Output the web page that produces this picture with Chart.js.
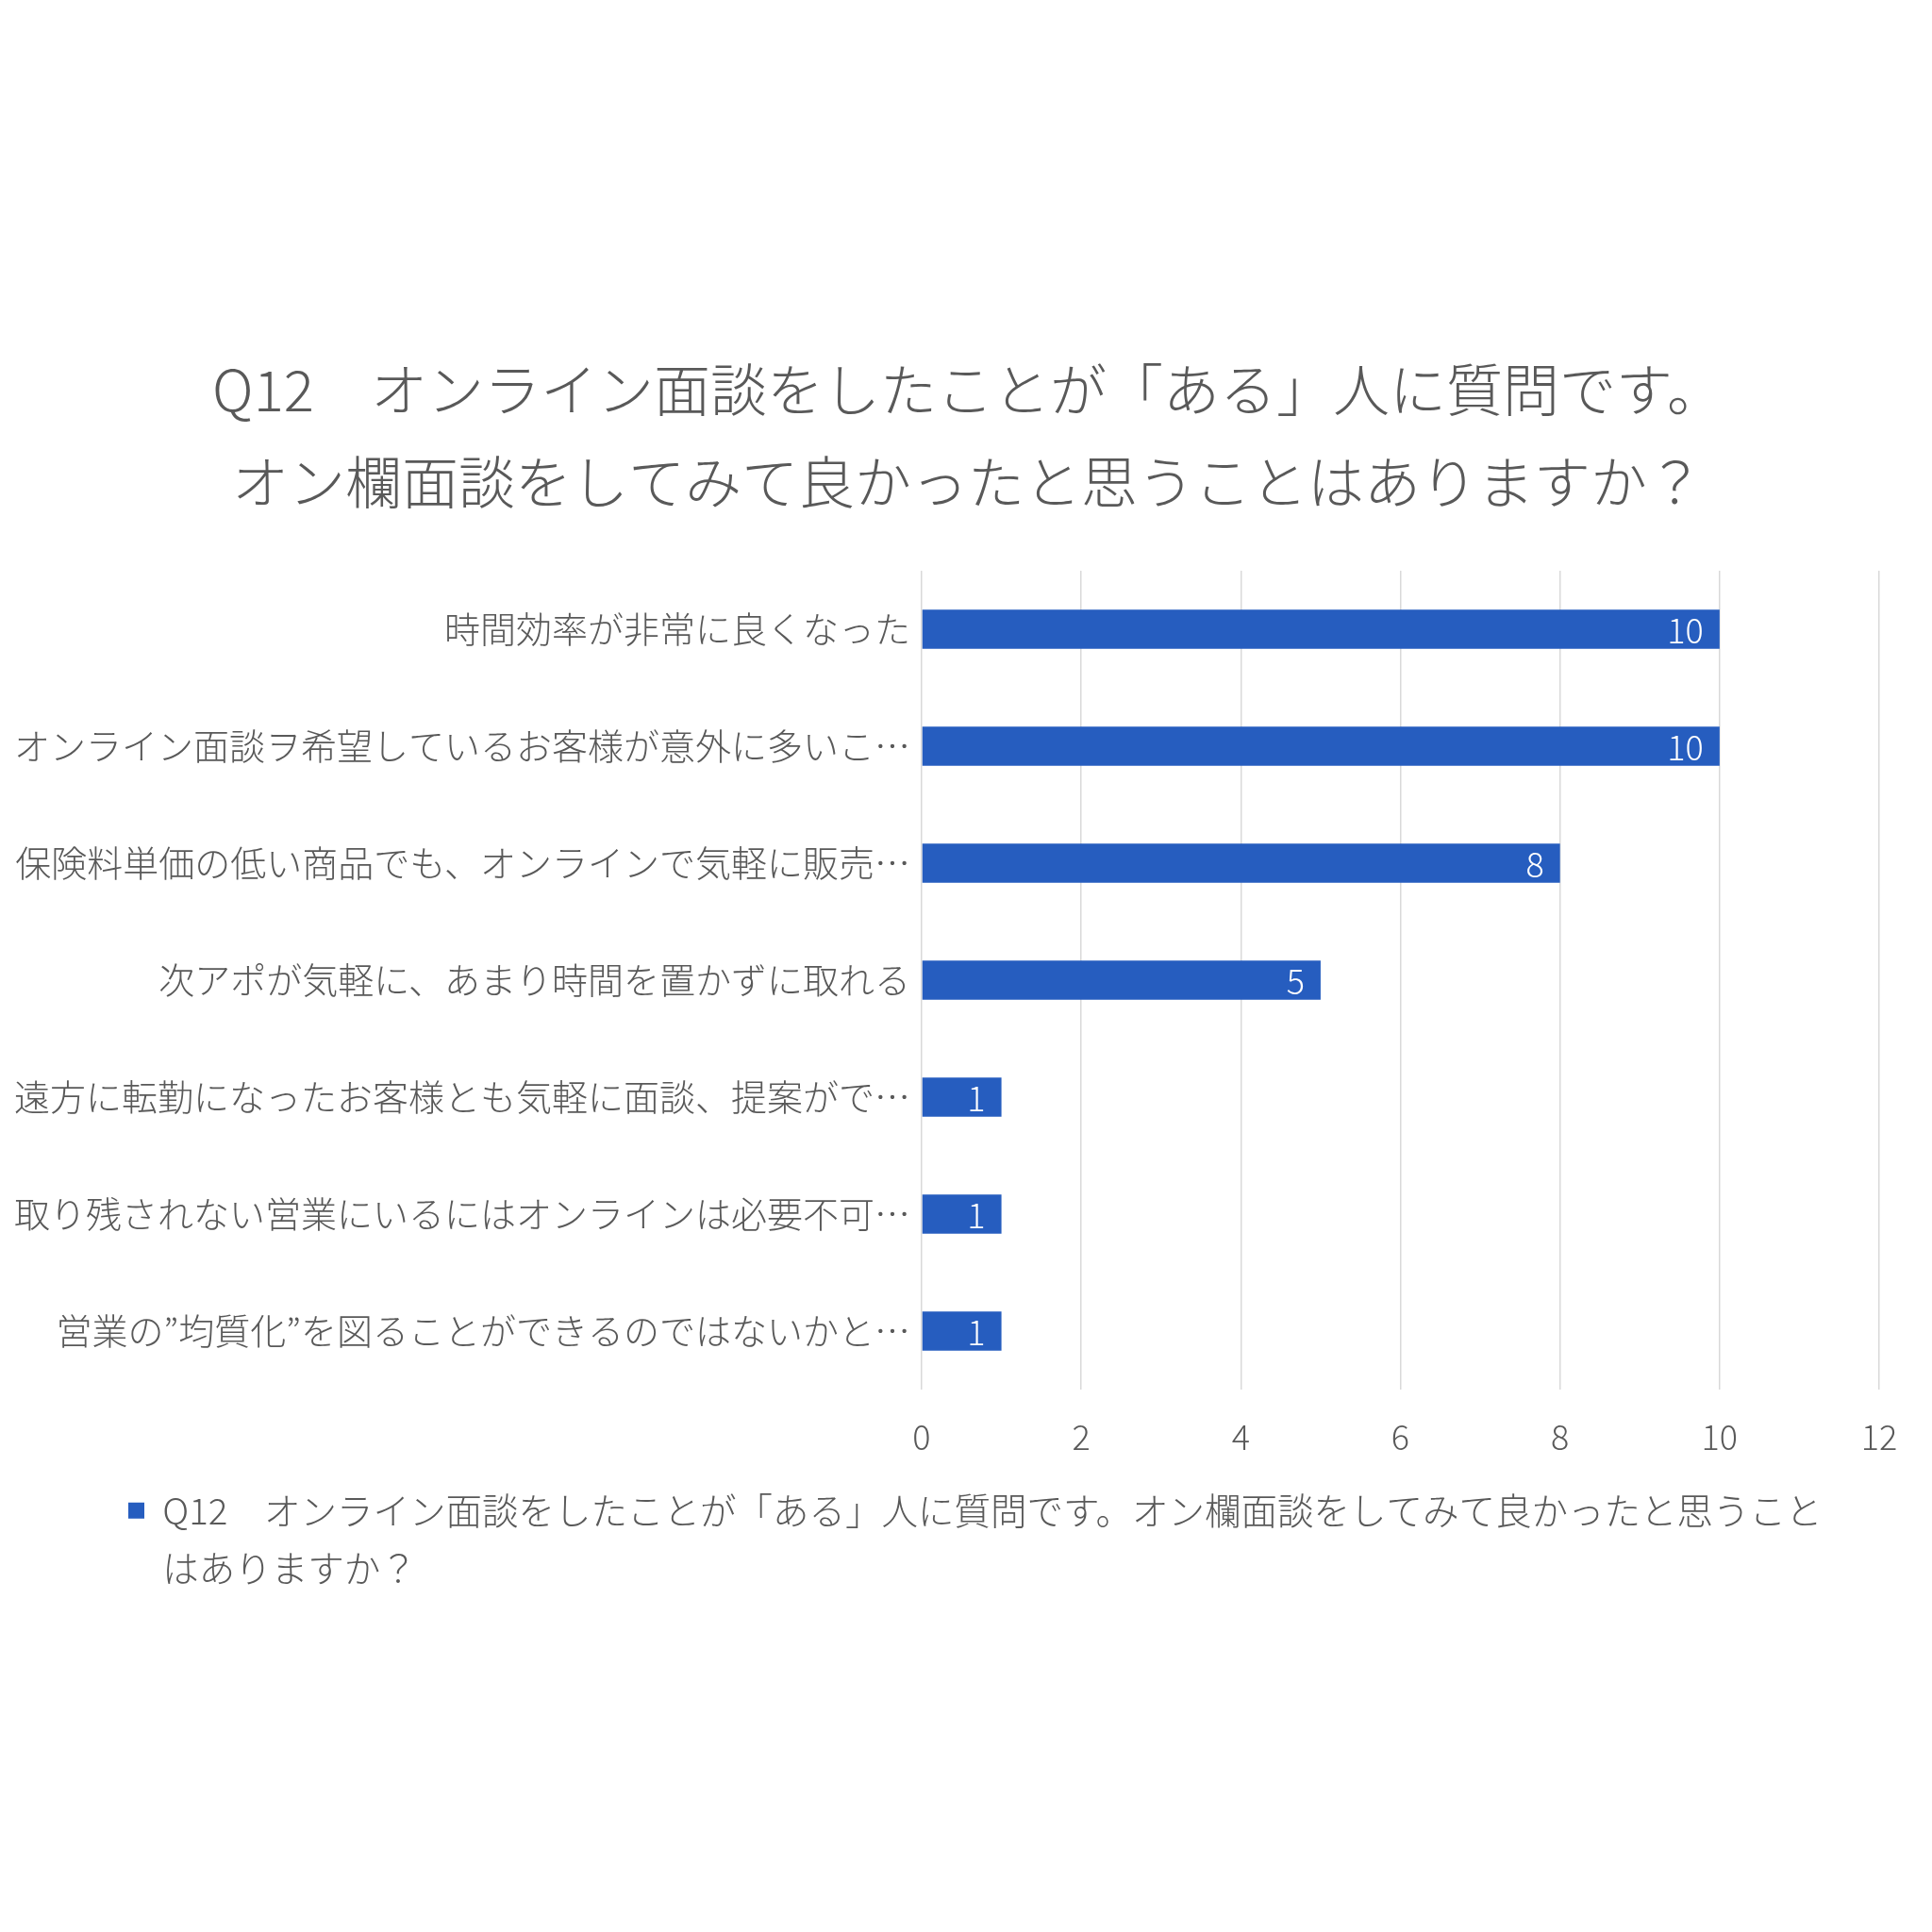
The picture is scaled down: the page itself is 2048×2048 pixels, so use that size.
<!DOCTYPE html>
<html>
<head>
<meta charset="utf-8">
<script src="https://cdn.jsdelivr.net/npm/chart.js@4"></script>
<style>
  html, body { margin: 0; padding: 0; background: #ffffff; }
  #wrap { width: 2048px; height: 2048px; }
</style>
</head>
<body>
<div id="wrap"><canvas id="c" width="2048" height="2048"></canvas></div>
<script>
const titleLines = [
  'Q12\u3000オンライン面談をしたことが「ある」人に質問です。',
  'オン欄面談をしてみて良かったと思うことはありますか？'
];
const categories = [
  '時間効率が非常に良くなった',
  'オンライン面談ヲ希望しているお客様が意外に多いこ…',
  '保険料単価の低い商品でも、オンラインで気軽に販売…',
  '次アポが気軽に、あまり時間を置かずに取れる',
  '遠方に転勤になったお客様とも気軽に面談、提案がで…',
  '取り残されない営業にいるにはオンラインは必要不可…',
  '営業の”均質化”を図ることができるのではないかと…'
];
const values = [10, 10, 8, 5, 1, 1, 1];
const seriesName = 'Q12\u3000オンライン面談をしたことが「ある」人に質問です。オン欄面談をしてみて良かったと思うことはありますか？';
const legendBreakAfter = 'と思うこと';
const xTicks = [0, 2, 4, 6, 8, 10, 12];

const FONT = "'Noto Sans CJK JP', 'Noto Sans', sans-serif";
const WEIGHT = 300;
const TEXT = '#595959';
const BAR = '#265dbf';

const dataLabels = {
  id: 'dataLabels',
  afterDatasetsDraw(chart) {
    const ctx = chart.ctx;
    ctx.save();
    ctx.font = WEIGHT + ' 36px ' + FONT;
    ctx.fillStyle = '#ffffff';
    ctx.textAlign = 'right';
    ctx.textBaseline = 'middle';
    chart.data.datasets.forEach((ds, di) => {
      chart.getDatasetMeta(di).data.forEach((bar, i) => {
        ctx.fillText(String(ds.data[i]), bar.x - 17, bar.y + 1);
      });
    });
    ctx.restore();
  }
};

// let the long category labels use the whole left margin (no clipping),
// and start the legend further in from the left edge
const layoutTweak = {
  id: 'layoutTweak',
  afterLayout(chart) {
    chart.scales.y.left = 0;
    if (chart.legend) chart.legend.left = 113;
  }
};

new Chart(document.getElementById('c'), {
  type: 'bar',
  data: {
    labels: categories,
    datasets: [{
      label: seriesName,
      data: values,
      backgroundColor: BAR,
      borderWidth: 0,
      barPercentage: 0.336,
      categoryPercentage: 1.0
    }]
  },
  options: {
    indexAxis: 'y',
    responsive: false,
    animation: false,
    devicePixelRatio: 1,
    layout: { padding: { top: 364, left: 60, right: 56, bottom: 356 } },
    plugins: {
      title: {
        display: true,
        text: titleLines,
        color: TEXT,
        font: { family: FONT, size: 60, weight: WEIGHT, lineHeight: 1.633 },
        padding: { top: 0, bottom: 45 }
      },
      legend: {
        display: true,
        position: 'bottom',
        align: 'start',
        labels: {
          color: TEXT,
          font: { family: FONT, size: 38.5, weight: WEIGHT },
          boxWidth: 17,
          boxHeight: 17,
          padding: 23,
          generateLabels(chart) {
            const ds = chart.data.datasets[0];
            const idx = ds.label.indexOf(legendBreakAfter) + legendBreakAfter.length;
            return [
              {
                text: ds.label.slice(0, idx),
                fillStyle: ds.backgroundColor,
                strokeStyle: ds.backgroundColor,
                lineWidth: 0,
                fontColor: TEXT,
                hidden: false,
                datasetIndex: 0
              },
              {
                text: ds.label.slice(idx),
                fillStyle: 'rgba(0,0,0,0)',
                strokeStyle: 'rgba(0,0,0,0)',
                lineWidth: 0,
                fontColor: TEXT,
                hidden: false,
                datasetIndex: 0
              }
            ];
          }
        }
      },
      tooltip: { enabled: false }
    },
    scales: {
      x: {
        type: 'linear',
        min: 0,
        max: 12,
        ticks: {
          stepSize: 2,
          color: TEXT,
          font: { family: FONT, size: 36, weight: WEIGHT },
          padding: 29,
          callback: (v) => xTicks.includes(v) ? String(v) : ''
        },
        grid: { color: '#d9d9d9', lineWidth: 1.5, drawTicks: false },
        border: { display: false },
        afterFit(scale) { scale.height = 86; }
      },
      y: {
        type: 'category',
        ticks: {
          color: TEXT,
          font: { family: FONT, size: 38, weight: WEIGHT },
          padding: 12,
          autoSkip: false
        },
        grid: { display: false, drawTicks: false },
        border: { display: false },
        afterFit(scale) { scale.width = 917; }
      }
    }
  },
  plugins: [dataLabels, layoutTweak]
});
</script>
</body>
</html>
